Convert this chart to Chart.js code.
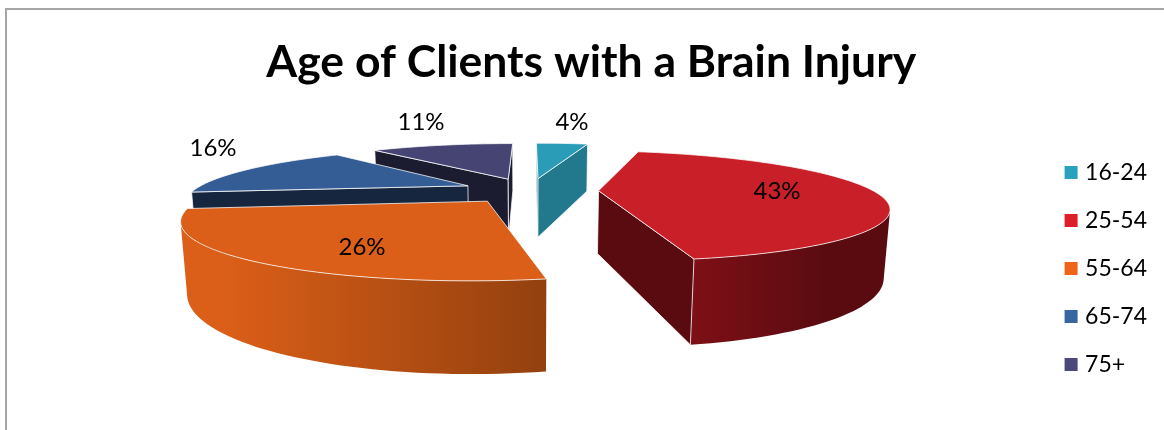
<!DOCTYPE html>
<html>
<head>
<meta charset="utf-8">
<title>Age of Clients with a Brain Injury</title>
<script src="https://cdn.jsdelivr.net/npm/chart.js@4"></script>
<style>
    html, body { margin: 0; padding: 0; background: #fff; overflow: hidden; }
    #frame {
        position: absolute; left: 5px; top: 8px; right: 0; bottom: 0;
        border-top: 2px solid #a6a6a6; border-left: 2px solid #a6a6a6;
    }
    #chart { position: absolute; left: 0; top: 0; }
</style>
</head>
<body>
<div id="frame"></div>
<canvas id="chart" width="1164" height="430"></canvas>
<script>
// chart data
const ageGroups = ['16-24', '25-54', '55-64', '65-74', '75+'];
const clientShare = [4, 43, 26, 16, 11];

// slice colours
const legendColors = ['#2aa2bf', '#de1f2a', '#ee6418', '#37659f', '#4a4979'];
const topColors = ['#2a9cb8', '#c91f28', '#db5f18', '#345d95', '#464472'];
const wallColors = ['#22788c', '#590b10', '#93400f', '#16263f', '#1c1c30'];
const curveStops = [
    [[0, '#22788c'], [1, '#22788c']],
    [[0, '#7e1016'], [0.7, '#590b10'], [1, '#590b10']],
    [[0, '#db5f18'], [0.12, '#db5f18'], [1, '#93400f']],
    [[0, '#16263f'], [1, '#16263f']],
    [[0, '#46447a'], [1, '#46447a']]
];

// percent labels, centre of each text
const labelCentres = [[572, 122], [777, 191], [362, 247], [213, 148], [421, 122]];

// camera looking down on the pie, unit radius = 1
const camera = { x0: 530, focal: 1005, horizon: 4.5, dist: 3.67, rise: 682, depth: 230, taper: 0.06 };
const explode = 0.25;

// plane point (u right, v away) -> screen. low = 1 for the underside of the slab
function project(u, v, low) {
    const w = camera.dist + v;
    return {
        x: camera.x0 + camera.focal * u / (w + low * camera.taper),
        y: camera.horizon + (camera.rise + low * camera.depth) / w
    };
}

function trace(ctx, points) {
    ctx.beginPath();
    points.forEach((p, i) => (i ? ctx.lineTo(p.x, p.y) : ctx.moveTo(p.x, p.y)));
    ctx.closePath();
}

function shoelace(points) {
    let area = 0;
    points.forEach((p, k) => {
        const q = points[(k + 1) % points.length];
        area += p.x * q.y - q.x * p.y;
    });
    return area;
}

function drawSlice(ctx, arc, index) {
    // angles clockwise from 12 o'clock
    const from = arc.startAngle + Math.PI / 2;
    const to = arc.endAngle + Math.PI / 2;
    const mid = (from + to) / 2;
    const tipU = explode * Math.sin(mid);
    const tipV = explode * Math.cos(mid);

    const plane = [[tipU, tipV]];
    const steps = Math.max(4, Math.ceil((to - from) / 0.03));
    for (let i = 0; i <= steps; i++) {
        const a = from + (to - from) * i / steps;
        plane.push([tipU + Math.sin(a), tipV + Math.cos(a)]);
    }
    const top = plane.map(p => project(p[0], p[1], 0));
    const low = plane.map(p => project(p[0], p[1], 1));

    // rim, one polygon for the run of segments facing the camera
    const rimIdx = [];
    for (let i = 1; i < top.length - 1; i++) {
        if (shoelace([top[i], top[i + 1], low[i + 1], low[i]]) < 0) {
            if (!rimIdx.length || rimIdx[rimIdx.length - 1] !== i) rimIdx.push(i);
            rimIdx.push(i + 1);
        }
    }
    if (rimIdx.length) {
        const rim = rimIdx.map(i => top[i]).concat(rimIdx.slice().reverse().map(i => low[i]));
        const rimX = rim.map(p => p.x);
        const gradient = ctx.createLinearGradient(Math.min(...rimX), 0, Math.max(...rimX), 0);
        curveStops[index].forEach(s => gradient.addColorStop(s[0], s[1]));
        trace(ctx, rim);
        ctx.fillStyle = gradient;
        ctx.fill();
    }

    // the two cut faces
    const last = top.length - 1;
    [[0, 1], [last, 0]].forEach(edge => {
        const quad = [top[edge[0]], top[edge[1]], low[edge[1]], low[edge[0]]];
        if (shoelace(quad) >= 0) return;
        trace(ctx, quad);
        ctx.fillStyle = wallColors[index];
        ctx.strokeStyle = 'rgba(255,255,255,0.75)';
        ctx.lineWidth = 1;
        ctx.fill();
        ctx.stroke();
    });

    trace(ctx, top);
    ctx.fillStyle = topColors[index];
    ctx.strokeStyle = 'rgba(255,255,255,0.75)';
    ctx.lineWidth = 1;
    ctx.fill();
    ctx.stroke();
}

// the pie controller lays out the angles, this draws them as a tilted slab
const slabPlugin = {
    id: 'slab',
    beforeDatasetDraw(chart, args) {
        const arcs = chart.getDatasetMeta(args.index).data;
        const ctx = chart.ctx;
        // far slices first so nearer ones overlap them
        const order = arcs.map((arc, i) => i).sort((a, b) => {
            const depth = i => Math.cos((arcs[i].startAngle + arcs[i].endAngle) / 2 + Math.PI / 2);
            return depth(b) - depth(a);
        });
        ctx.save();
        order.forEach(i => drawSlice(ctx, arcs[i], i));

        ctx.fillStyle = '#000';
        ctx.font = '24px Lato';
        ctx.textAlign = 'center';
        ctx.textBaseline = 'middle';
        clientShare.forEach((value, i) => {
            ctx.fillText(value + '%', labelCentres[i][0], labelCentres[i][1]);
        });
        ctx.restore();
        return false;
    }
};

const chart = new Chart(document.getElementById('chart').getContext('2d'), {
    type: 'pie',
    data: {
        labels: ageGroups,
        datasets: [{ data: clientShare, backgroundColor: legendColors, borderWidth: 0 }]
    },
    options: {
        responsive: false,
        animation: false,
        layout: { padding: { left: 139, right: 7, top: 36, bottom: 29 } },
        plugins: {
            tooltip: { enabled: false },
            title: {
                display: true,
                text: 'Age of Clients with a Brain Injury',
                fullSize: false,
                color: '#000',
                font: { family: 'Lato', size: 44.5, weight: 'bold' },
                padding: { top: 0, bottom: 10 }
            },
            legend: {
                position: 'right',
                align: 'end',
                onClick: null,
                labels: {
                    color: '#000',
                    font: { family: 'Lato', size: 23 },
                    usePointStyle: true,
                    pointStyle: 'rect',
                    boxWidth: 5,
                    boxHeight: 13,
                    padding: 25
                }
            }
        }
    },
    plugins: [slabPlugin]
});
</script>
</body>
</html>
